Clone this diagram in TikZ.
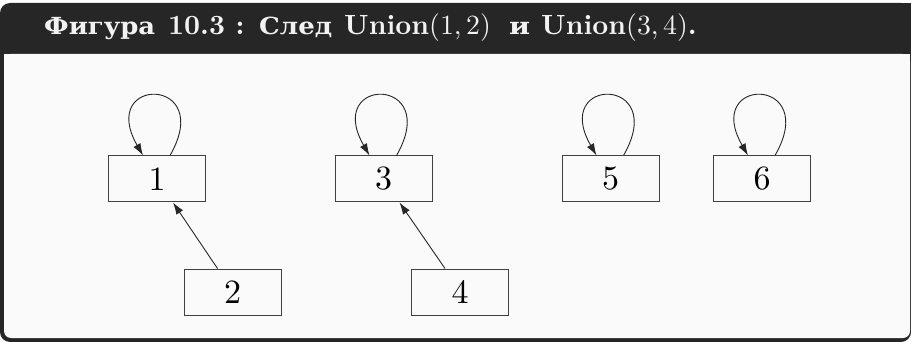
\documentclass[tikz,border=0pt]{standalone}
\usepackage{fontspec}
\setmainfont{lmroman10-regular.otf}[BoldFont=lmroman10-bold.otf]
\newfontfamily\cyrfont{DejaVu Serif}
\usetikzlibrary{arrows.meta}
\definecolor{framedark}{HTML}{262626}
\definecolor{bodylight}{HTML}{FAFAFA}
\definecolor{titletext}{HTML}{F2F2F2}
\newcommand{\cyrw}[2]{\resizebox{#1}{\height}{\cyrfont\fontsize{23.5}{28}\selectfont\bfseries #2}}
\tikzset{
  nbox/.style={draw=black!75, line width=1pt, fill=none, minimum width=97pt, minimum height=46pt, inner sep=0pt, font=\fontsize{34}{40}\selectfont},
  arr/.style={draw=black!85, line width=0.9pt, -{Latex[length=12pt,width=8pt]}},
  ttl/.style={anchor=base west, inner sep=0pt, text=titletext, font=\fontsize{27.8}{32}\selectfont\bfseries},
}
\begin{document}
\begin{tikzpicture}[x=1pt,y=-1pt]
\useasboundingbox (0,0) rectangle (911,342);
% frame
\fill[framedark, rounded corners=10pt] (0,3) rectangle (911,342);
\fill[framedark] (850,3) rectangle (911,40);
\fill[bodylight, rounded corners=7pt] (4,54) rectangle (910,338);
\fill[bodylight] (4,54) rectangle (910,100);
% title
\node[ttl] (t1) at (44,35) {\cyrw{111pt}{Фигура}};
\node[ttl] (t2) at (168,35) {10.3 :};
\node[ttl] (t3) at (259,35) {\cyrw{73pt}{След}};
\node[ttl] (t4) at (344,35) {Union{\mdseries(1,\,2)}};
\node[ttl] (t5) at (509,35) {\cyrw{21pt}{и}};
\node[ttl] (t6) at (541,35) {Union{\mdseries(3,\,4)}.};
% nodes
\node[nbox] (n1) at (157,179) {1};
\node[nbox] (n2) at (232.5,292) {2};
\node[nbox] (n3) at (383.5,179) {3};
\node[nbox] (n4) at (460,292) {4};
\node[nbox] (n5) at (610.5,179) {5};
\node[nbox] (n6) at (762,179) {6};
% loops
\foreach \n in {n1,n3,n5,n6}{
  \draw[arr] ([xshift=13pt]\n.north) .. controls +(46,-80) and +(-46,-80) .. ([xshift=-14pt]\n.north);
}
% edges
\draw[arr] ([xshift=-15pt]n2.north) -- ([xshift=16pt]n1.south);
\draw[arr] ([xshift=-15pt]n4.north) -- ([xshift=16pt]n3.south);
\end{tikzpicture}
\end{document}
